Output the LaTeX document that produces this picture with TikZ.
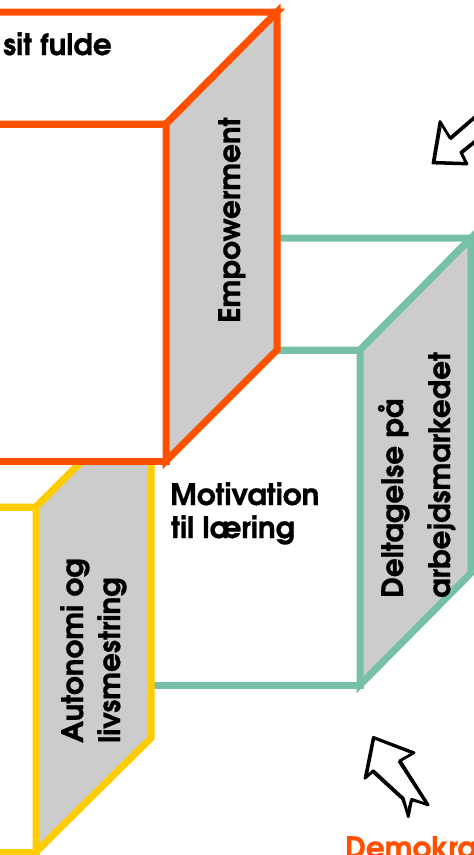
\documentclass[tikz,border=0pt]{standalone}
\usepackage{fontspec}
\newfontfamily\advb[FakeBold=0.9]{texgyreadventor-bold.otf}
\definecolor{cOrange}{HTML}{FF5000}
\definecolor{cGreen}{HTML}{76C0A5}
\definecolor{cYellow}{HTML}{FFCC00}
\definecolor{cGrey}{HTML}{CCCCCC}
\tikzset{
  edge/.style={line width=7pt, line join=miter},
  face/.style={edge, fill=white},
  side/.style={edge, fill=cGrey},
  lbl/.style={inner sep=0pt, font=\advb\fontsize{29.5}{35}\selectfont},
  vlbl/.style={lbl, rotate=90, anchor=base west},
  sketch/.style={draw=black, line width=2.8pt, line join=round, line cap=round},
  sketchthin/.style={draw=black, line width=1.2pt, line join=round, line cap=round}
}
\begin{document}
\begin{tikzpicture}[x=1pt, y=-1pt]
\useasboundingbox (0,0) rectangle (474,855);
\clip (0,0) rectangle (474,855);
% green box (back)
\draw[face, draw=cGreen] (200,238) -- (471,238) -- (360,350) -- (200,350) -- cycle;
\draw[face, draw=cGreen] (100,350) -- (360,350) -- (360,685) -- (100,685) -- cycle;
\draw[side, draw=cGreen] (360,350) -- (471,238) -- (471,573) -- (360,685) -- cycle;
% yellow box
\draw[face, draw=cYellow] (-20,392) -- (151,392) -- (36,507) -- (-20,507) -- cycle;
\draw[face, draw=cYellow] (-20,507) -- (36,507) -- (36,852) -- (-20,852) -- cycle;
\draw[side, draw=cYellow] (36,507) -- (151,392) -- (151,738) -- (36,852) -- cycle;
% orange box (front)
\draw[face, draw=cOrange] (-20,12) -- (277,12) -- (166,124) -- (-20,124) -- cycle;
\draw[face, draw=cOrange] (-20,124) -- (166,124) -- (166,461) -- (-20,461) -- cycle;
\draw[side, draw=cOrange] (166,124) -- (277,12) -- (277,350) -- (166,461) -- cycle;
% texts
\node[lbl, anchor=base west] (sit) at (3,55) {sit fulde};
\node[vlbl] (emp) at (240,323) {Empowerment};
\node[vlbl] (del1) at (403,598) {Deltagelse på};
\node[vlbl] (del2) at (450,598) {arbejdsmarkedet};
\node[vlbl] (aut1) at (83,743) {Autonomi og};
\node[vlbl] (aut2) at (120,743) {livsmestring};
\node[lbl, anchor=base west] (mot1) at (170,505) {Motivation};
\node[lbl, anchor=base west] (mot2) at (171,538) {til læring};
\node[lbl, anchor=base west, text=cOrange] (demo) at (345,858) {Demokra};
% sketchy arrows
\draw[sketch] (485,108) -- (450,138) -- (440,121.5) -- (433,163) -- (467,164) -- (461.5,153) -- (485,134);
\draw[sketchthin] (485,110) -- (451,139.5) -- (441.5,124) -- (435,161.5) -- (465,162.5) -- (460,152) -- (485,132);
\draw[sketch] (373.3,737.3) -- (414,752.7) -- (400,760.7) -- (428.3,805) -- (411.7,799.3) -- (408.3,816.7) -- (403.3,798.3) -- (373.3,770.7) -- (365,778.3) -- cycle;
\draw[sketchthin] (374.5,739) -- (412,753.5) -- (398.5,762) -- (426,804) -- (410.5,800.5) -- (407,813) -- (402,799.5) -- (372.5,772.5) -- (367,777) -- cycle;
\end{tikzpicture}
\end{document}
